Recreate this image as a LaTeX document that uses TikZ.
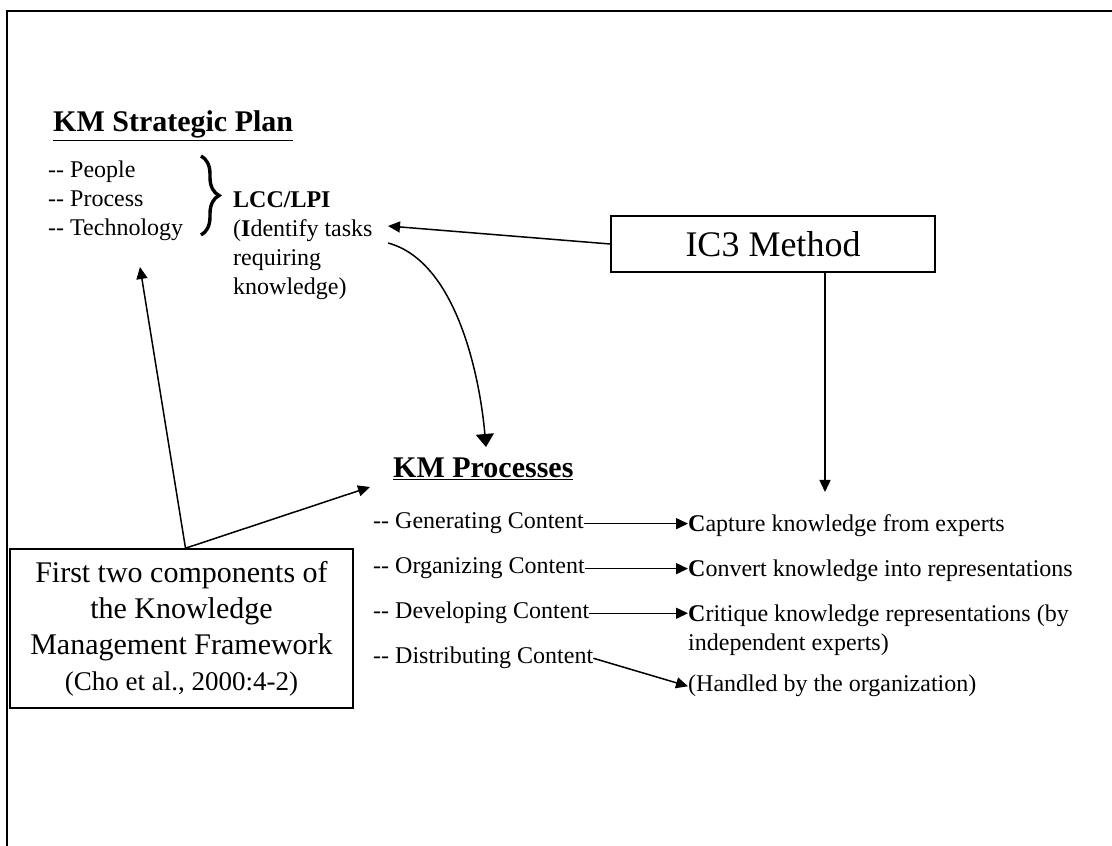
\documentclass[tikz,border=0pt]{standalone}
\usepackage{fontspec}
\setmainfont{Liberation Serif}
\usetikzlibrary{arrows.meta,decorations.pathreplacing}
\newcommand{\twohyph}{-\kern0pt-}
\tikzset{
  item/.style={anchor=base west,inner sep=0pt,align=left,font=\fontsize{24}{29}\selectfont},
  heading/.style={anchor=base west,inner sep=0pt,font=\fontsize{30}{36}\selectfont\bfseries},
  arr/.style={-{Triangle[length=12pt,width=11pt]},line width=1.5pt},
  bigarr/.style={-{Triangle[length=13pt,width=18pt]},line width=1.5pt}
}
\begin{document}
\begin{tikzpicture}[x=1pt,y=1pt]
      \useasboundingbox (0,0) rectangle (1112,846);
      \draw[line width=2.6pt] (7,0) -- (7,835) -- (1112,835);
      \draw
        (53,714) node[heading] (plan){\underline{KM Strategic Plan}}
        (48,610) node[item] (plist){\twohyph{} People\\\twohyph{} Process\\\twohyph{} Technology}
        (233,551) node[item] (lcc){\textbf{LCC/LPI}\\(\textbf{I}dentify tasks\\requiring\\knowledge)}
        (773,602) node[draw,line width=1.6pt,minimum width=324pt,minimum height=56pt,
          font=\fontsize{36}{43}\selectfont] (ic3){IC3 Method}
        (393,368) node[heading] (kmproc){\underline{KM Processes}}
        (373,317) node[item] (gen){\twohyph{} Generating Content}
        (373,272) node[item] (org){\twohyph{} Organizing Content}
        (373,227) node[item] (dev){\twohyph{} Developing Content}
        (373,182) node[item] (dist){\twohyph{} Distributing Content}
        (688,314) node[item] (capture){\textbf{C}apture knowledge from experts}
        (688,269) node[item] (convert){\textbf{C}onvert knowledge into representations}
        (688,195) node[item] (critique){\textbf{C}ritique knowledge representations (by\\independent experts)}
        (688,154) node[item] (handled){(Handled by the organization)}
        (181.5,217.5) node[draw,line width=1.6pt,minimum width=343pt,minimum height=159pt,
          align=center,font=\fontsize{30}{36}\selectfont] (fw){First two components of\\the Knowledge\\Management Framework\\{\fontsize{27}{36}\selectfont(Cho et al., 2000:4-2)}};
      \draw[line width=3.4pt,decorate,decoration={brace,amplitude=18pt}] (201,690) -- (201,611);
      \coordinate (lccin) at (388,620);
      \coordinate (lccout) at (388,603);
      \coordinate (proctop) at (486,399);
      \coordinate (ic3tip) at (825,354);
      \coordinate (plantip) at (140,579);
      \coordinate (procleft) at (370,359);
      \begin{scope}[arr]
        \draw (ic3.west) to (lccin);
        \draw[bigarr] (lccout) to[out=-15,in=95,looseness=0.8] (proctop);
        \draw (ic3.south -| ic3tip) to (ic3tip);
        \draw ([xshift=4pt]fw.north) to (plantip);
        \draw ([xshift=4pt]fw.north) to (procleft);
        \draw (gen.east) to (gen.east -| capture.west);
        \draw (org.east) to (org.east -| convert.west);
        \draw (dev.east) to (dev.east -| critique.west);
        \draw (dist.east) to (handled.west);
      \end{scope}
    \end{tikzpicture}
\end{document}
